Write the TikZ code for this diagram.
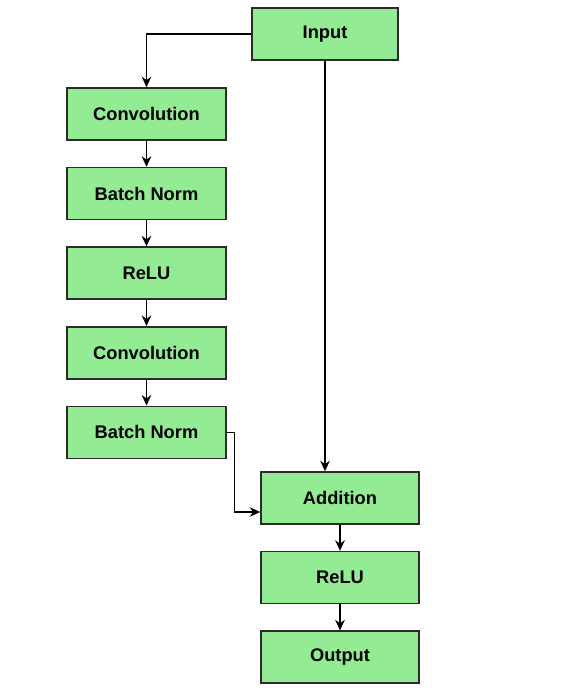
\documentclass[tikz,border=0pt]{standalone}
\usepackage{fontspec}
\setmainfont{Liberation Sans}
\usetikzlibrary{positioning, arrows.meta}
\definecolor{xgreen}{HTML}{93EC93}
\definecolor{xedge}{HTML}{2B2B2B}

\begin{document}
\begin{tikzpicture}[every node/.style={font=\fontsize{10.4}{12}\selectfont\bfseries},
		layer/.style={draw=xedge, line width=0.9pt, fill=xgreen, minimum width=3.18cm, minimum height=1.04cm, inner sep=0pt},
		link/.style={draw=black, line width=0.75pt, -{Stealth[length=6pt, width=5.5pt]}},
		node distance=0.52cm]
		\useasboundingbox (0,0) rectangle (11.7,-13.98);
		\node[layer, minimum width=2.92cm] (input) at (6.5,-0.68) {Input};
		\node[layer] (conv1) at (2.93,-2.28) {Convolution};
		\node[layer, below=of conv1] (bn1) {Batch Norm};
		\node[layer, below=of bn1] (relu1) {ReLU};
		\node[layer, below=of relu1] (conv2) {Convolution};
		\node[layer, below=of conv2] (bn2) {Batch Norm};
		\node[layer, minimum width=3.16cm] (add) at (6.8,-9.96) {Addition};
		\node[layer, minimum width=3.16cm, below=of add] (relu2) {ReLU};
		\node[layer, minimum width=3.16cm, below=of relu2] (output) {Output};
		\draw[link] (input.west) -| (conv1.north);
		\draw[link] (conv1) -- (bn1);
		\draw[link] (bn1) -- (relu1);
		\draw[link] (relu1) -- (conv2);
		\draw[link] (conv2) -- (bn2);
		\draw[link] (input.south) -- (input.south |- add.north);
		\draw[link] (bn2.east) -- ++(0.16,0) |- ([yshift=-0.28cm]add.west);
		\draw[link] (add) -- (relu2);
		\draw[link] (relu2) -- (output);
	\end{tikzpicture}
\end{document}
